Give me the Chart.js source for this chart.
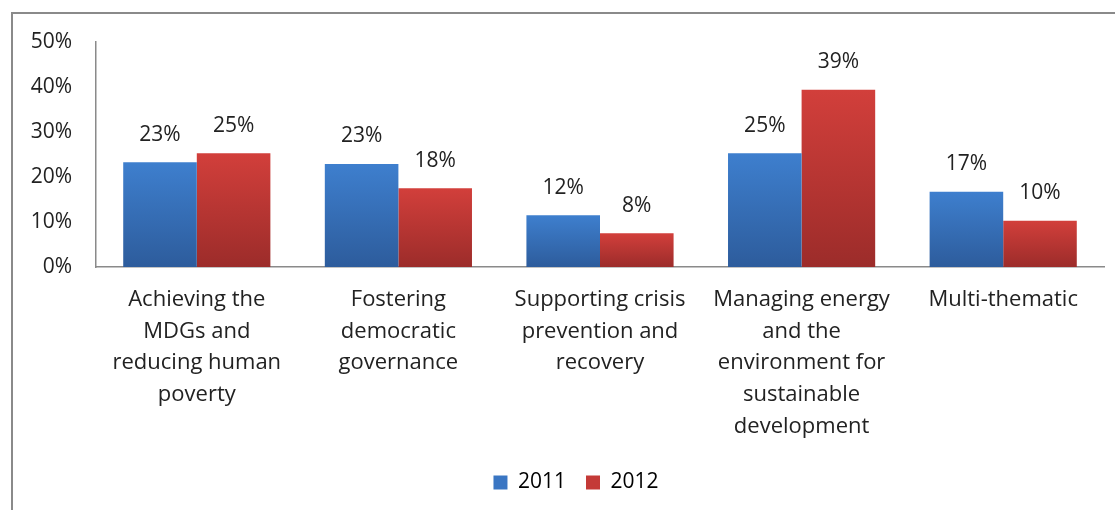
<!DOCTYPE html>
<html>
<head>
<meta charset="utf-8">
<script src="https://cdn.jsdelivr.net/npm/chart.js@4/dist/chart.umd.min.js"></script>
<style>
  html, body { margin: 0; padding: 0; background: #fff; }
  #wrap { position: relative; width: 1115px; height: 510px; overflow: hidden; }
  #frame { position: absolute; left: 11px; top: 12px; width: 1200px; height: 600px;
           border-left: 2px solid #8a8a8a; border-top: 2px solid #8a8a8a; }
  canvas { position: absolute; left: 0; top: 0; }
</style>
</head>
<body>
<div id="wrap">
  <div id="frame"></div>
  <canvas id="chart" width="1115" height="510"></canvas>
</div>
<script>
// categories (multi-line as in the source)
var categories = [
  ["Achieving the", "MDGs and", "reducing human", "poverty"],
  ["Fostering", "democratic", "governance"],
  ["Supporting crisis", "prevention and", "recovery"],
  ["Managing energy", "and the", "environment for", "sustainable", "development"],
  ["Multi-thematic"]
];
var seriesNames = ["2011", "2012"];
var values2011 = [23.3, 22.9, 11.5, 25.3, 16.7];
var values2012 = [25.3, 17.5, 7.5, 39.4, 10.3];
var yTicks = [0, 10, 20, 30, 40, 50];

var FONT = "'Open Sans', Lato, sans-serif";

// gradient per bar, light on top, darker at the bottom (Excel style)
function barGradient(top, bottom) {
  return function(ctx) {
    var chart = ctx.chart;
    if (!chart.chartArea || ctx.raw == null) return top;
    var y = chart.scales.y;
    var y0 = y.getPixelForValue(ctx.raw);
    var y1 = y.getPixelForValue(0);
    var g = chart.ctx.createLinearGradient(0, y0, 0, y1);
    g.addColorStop(0, top);
    g.addColorStop(1, bottom);
    return g;
  };
}

// percent labels above bars
var valueLabels = {
  id: "valueLabels",
  afterDatasetsDraw: function(chart) {
    var c = chart.ctx;
    c.save();
    c.font = "21px " + FONT;
    c.fillStyle = "#222";
    c.textAlign = "center";
    c.textBaseline = "bottom";
    chart.data.datasets.forEach(function(ds, i) {
      chart.getDatasetMeta(i).data.forEach(function(bar, j) {
        c.fillText(Math.round(ds.data[j]) + "%", bar.x, bar.y - 17);
      });
    });
    c.restore();
  }
};

// the legend in the source sits a bit right of the page centre
var legendShift = {
  id: "legendShift",
  afterLayout: function(chart) {
    chart.legend.left += 24;
    chart.legend.right += 24;
  }
};

new Chart(document.getElementById("chart"), {
  type: "bar",
  data: {
    labels: categories,
    datasets: [{
      label: seriesNames[0],
      data: values2011,
      backgroundColor: barGradient("#3e7fce", "#2d5c9c"),
      borderWidth: 0
    }, {
      label: seriesNames[1],
      data: values2012,
      backgroundColor: barGradient("#d23f3b", "#9c2c2a"),
      borderWidth: 0
    }]
  },
  options: {
    responsive: false,
    animation: false,
    events: [],
    layout: { padding: { left: 0, right: 11, top: 42, bottom: 7 } },
    datasets: { bar: { categoryPercentage: 0.73, barPercentage: 1 } },
    scales: {
      x: {
        grid: { display: false, drawTicks: false },
        border: { display: true, color: "#8a8a8a", width: 1.5 },
        ticks: {
          color: "#222", padding: 17, maxRotation: 0, autoSkip: false,
          font: { family: FONT, size: 22, lineHeight: 1.44 }
        },
        afterFit: function(s) { s.height = 185; }
      },
      y: {
        min: 0, max: 50,
        grid: { display: false, drawTicks: false },
        border: { display: true, color: "#8a8a8a", width: 1.5 },
        afterFit: function(s) { s.width = 96; },
        afterBuildTicks: function(s) { s.ticks = yTicks.map(function(v) { return { value: v }; }); },
        ticks: {
          color: "#222", padding: 24,
          font: { family: FONT, size: 21 },
          callback: function(v) { return v + "%"; }
        }
      }
    },
    plugins: {
      legend: {
        position: "bottom",
        labels: {
          color: "#222", boxWidth: 14, boxHeight: 14, padding: 20,
          font: { family: FONT, size: 21 },
          generateLabels: function(chart) {
            var cols = ["#3a76c3", "#c43a37"];
            return seriesNames.map(function(n, i) {
              return { text: n, fillStyle: cols[i], strokeStyle: cols[i], lineWidth: 0, datasetIndex: i };
            });
          }
        }
      },
      tooltip: { enabled: false }
    }
  },
  plugins: [valueLabels, legendShift]
});
</script>
</body>
</html>
